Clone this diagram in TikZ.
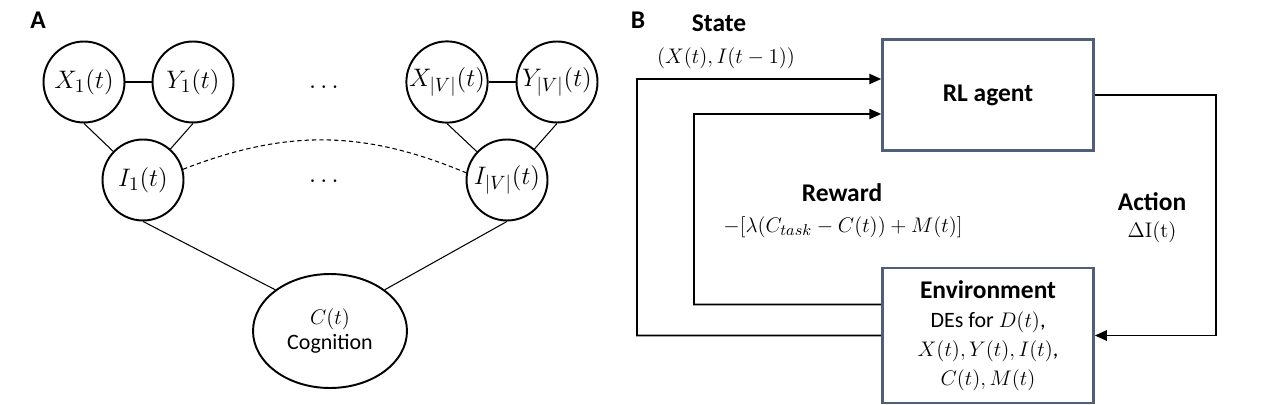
\documentclass[tikz,border=0pt]{standalone}
\usepackage[no-math]{fontspec}
\setmainfont{Carlito}
\usetikzlibrary{shapes.geometric,arrows.meta,positioning}
\definecolor{boxblue}{RGB}{80,94,120}

\begin{document}
\begin{tikzpicture}[x=0.02cm,y=-0.02cm,
    var/.style={circle,draw,line width=1.1pt,minimum size=1.62cm,inner sep=0pt,font=\fontsize{15}{17}\selectfont},
    edge/.style={line width=0.6pt},
    blockbox/.style={draw=boxblue,line width=1.5pt,minimum width=4.22cm,align=center},
    flow/.style={line width=1.1pt,-{Triangle[length=6.8pt,width=5.8pt]}},
    lbl/.style={font=\fontsize{14.5}{16}\selectfont\bfseries},
    formula/.style={font=\fontsize{11.5}{13}\selectfont}]
  \useasboundingbox (0,0) rectangle (1280,405);

  % panel A: graph of variables
  \node[lbl] (labA) at (38,20) {A};
  \node[var] (X1) at (84,82) {$X_1(t)$};
  \node[var] (Y1) at (193,82) {$Y_1(t)$};
  \node[var] (XV) at (447,82) {$X_{|V|}(t)$};
  \node[var] (YV) at (557,82) {$Y_{|V|}(t)$};
  \node[var] (I1) at (143,180) {$I_1(t)$};
  \node[var] (IV) at (507,180) {$I_{|V|}(t)$};
  \node[font=\fontsize{15}{17}\selectfont] (dotsA) at (324,88) {$\cdots$};
  \node[font=\fontsize{15}{17}\selectfont] (dotsB) at (324,182) {$\cdots$};
  \node[ellipse,draw,line width=1.1pt,minimum width=3.08cm,minimum height=2.28cm,
        align=center,font=\fontsize{12.5}{14}\selectfont] (C) at (330,331) {$C(t)$\\Cognition};

  \draw[edge] (X1) -- (Y1);
  \draw[edge] (XV) -- (YV);
  \draw[edge] (X1.south) -- (I1);
  \draw[edge] (Y1.south) -- (I1);
  \draw[edge] (XV.south) -- (IV);
  \draw[edge] (YV.south) -- (IV);
  \draw[edge] (I1.south) -- (C.143);
  \draw[edge] (IV.south) -- (C.37);
  \draw[edge,dash pattern=on 2.5pt off 1.7pt] (I1.15) to[bend left=22] (IV.170);

  % panel B: RL loop
  \node[lbl] (labB) at (638,20) {B};
  \node[blockbox,minimum height=2.22cm,font=\fontsize{14.5}{16}\selectfont\bfseries] (agent) at (988,95) {RL agent};
  \node[blockbox,minimum height=2.7cm,font=\fontsize{12.5}{16.4}\selectfont] (env) at (988,335.5)
    {{\fontsize{14.5}{16.4}\selectfont\bfseries Environment}\\DEs for $D(t)$,\\$X(t),Y(t),I(t)$,\\$C(t),M(t)$};

  \coordinate (sL) at (637,79);
  \coordinate (rL) at (694,114);
  \coordinate (aR) at (1216,95);

  \draw[flow] (env.west) -| (sL) -- ([yshift=0.32cm]agent.west);
  \draw[flow] ([yshift=0.62cm]env.west) -| (rL) -- ([yshift=-0.38cm]agent.west);
  \draw[flow] (agent.east) -- (aR) |- (env.east);

  \node[lbl] (state) at (719,23) {State};
  \node[formula] (statef) at (726,58) {$(X(t),I(t-1))$};
  \node[lbl] (reward) at (842,193) {Reward};
  \node[formula,font=\fontsize{13}{15}\selectfont] (rewardf) at (843,227) {$-[\lambda\big(C_{task}-C(t)\big)+M(t)]$};
  \node[lbl] (action) at (1152,202) {Action};
  \node[formula,font=\fontsize{13}{15}\selectfont] (actionf) at (1152,232) {$\Delta\mathrm{I(t)}$};
\end{tikzpicture}
\end{document}
